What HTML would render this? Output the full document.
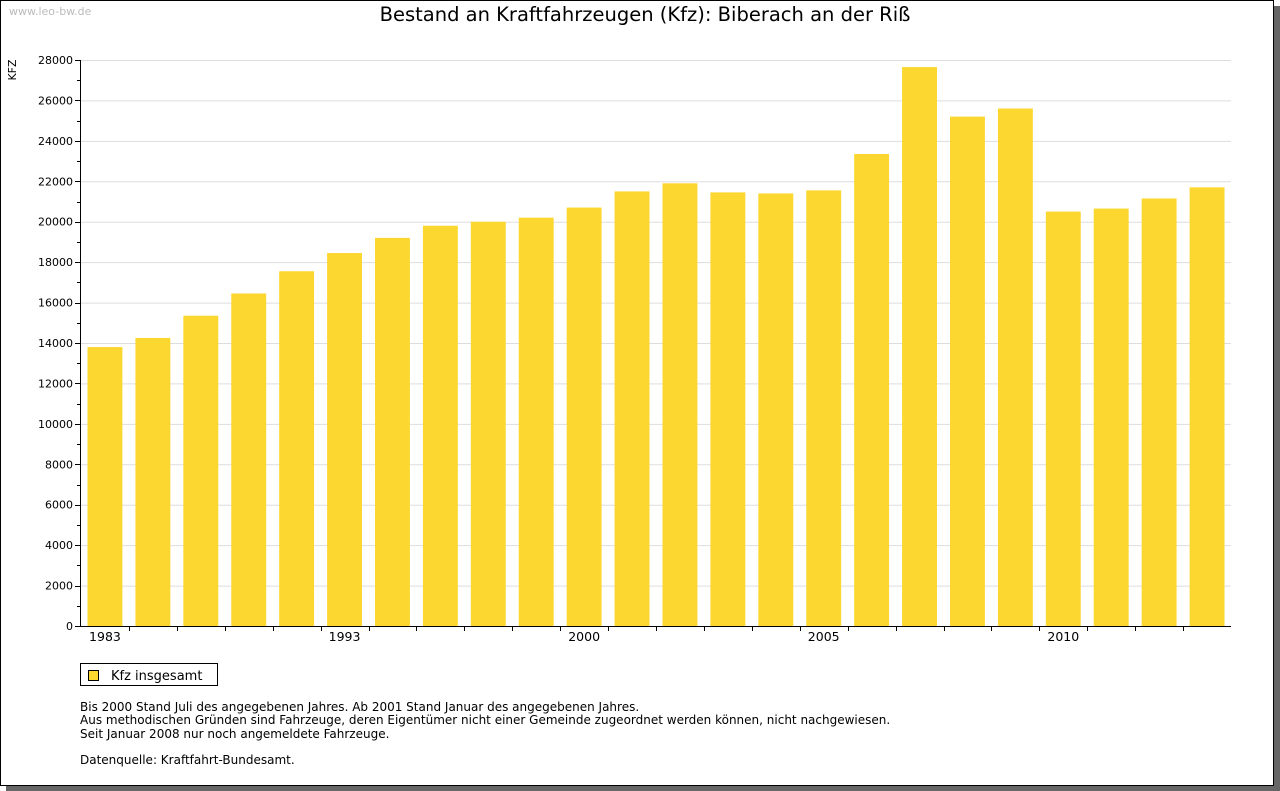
<!DOCTYPE html>
<html><head><meta charset="utf-8"><style>
body{margin:0;background:#fff;width:1280px;height:791px;overflow:hidden;font-family:"DejaVu Sans","Liberation Sans",sans-serif;}
#frame{position:absolute;left:0;top:0;width:1272px;height:784px;border:1px solid #000;background:#fff;box-shadow:6px 6px 0 #666;}
</style></head><body>
<div id="frame"></div>
<svg id="c" width="1280" height="791" style="position:absolute;left:0;top:0" font-family="DejaVu Sans, Liberation Sans, sans-serif">
<text x="9" y="15" font-size="11" fill="#bbb">www.leo-bw.de</text>
<text x="645" y="21" font-size="19.5" text-anchor="middle" fill="#000">Bestand an Kraftfahrzeugen (Kfz): Biberach an der Riß</text>
<text transform="translate(16,70) rotate(-90)" font-size="11" text-anchor="middle">KFZ</text>
<g id="grid"></g><g id="bars"></g><g id="axes"></g>
<g>
<rect x="80.5" y="663.5" width="137" height="22" fill="#fff" stroke="#000"/>
<rect x="88.5" y="670.5" width="10" height="10" fill="#fcd72f" stroke="#000"/>
<text x="111" y="680" font-size="13">Kfz insgesamt</text>
</g>
<g font-size="12">
<text x="80" y="711">Bis 2000 Stand Juli des angegebenen Jahres. Ab 2001 Stand Januar des angegebenen Jahres.</text>
<text x="80" y="724">Aus methodischen Gründen sind Fahrzeuge, deren Eigentümer nicht einer Gemeinde zugeordnet werden können, nicht nachgewiesen.</text>
<text x="80" y="738">Seit Januar 2008 nur noch angemeldete Fahrzeuge.</text>
<text x="80" y="764">Datenquelle: Kraftfahrt-Bundesamt.</text>
</g>
</svg>
<script>
const categories=["1983","1985","1987","1989","1991","1993","1995","1996","1997","1999","2000","2001","2002","2003","2004","2005","2006","2007","2008","2009","2010","2011","2012","2013"];
const values=[13800,14250,15350,16450,17550,18450,19200,19800,20000,20200,20700,21500,21900,21450,21400,21550,23350,27650,25200,25600,20500,20650,21150,21700];
const shownLabels=["1983","1993","2000","2005","2010"];
const yTicks=[0,2000,4000,6000,8000,10000,12000,14000,16000,18000,20000,22000,24000,26000,28000];
const NS="http://www.w3.org/2000/svg";
const X0=80,X1=1231,Y0=626,Y1=60,YMAX=28000;
const band=(X1-X0-1)/categories.length;
const y=v=>Y0-(v/YMAX)*(Y0-Y1);
const x=i=>X0+1+i*band;
function mk(t,a,p){const e=document.createElementNS(NS,t);for(const k in a)e.setAttribute(k,a[k]);p.appendChild(e);return e;}
const grid=document.getElementById('grid'),bars=document.getElementById('bars'),axes=document.getElementById('axes');
yTicks.forEach(v=>{
  if(v>0){const g=mk('line',{x1:X0,x2:X1,y1:y(v)+.5,y2:y(v)+.5,stroke:'#ddd'},grid);
  
  }
  const t=mk('line',{x1:X0-5,x2:X0,y1:Math.round(y(v))+.5,y2:Math.round(y(v))+.5,stroke:'#000'},axes);
  
  
  if(v+1000<YMAX){const m=mk('line',{x1:X0-3,x2:X0,y1:Math.round(y(v+1000))+.5,y2:Math.round(y(v+1000))+.5,stroke:'#000'},axes);
  
  }
  const l=mk('text',{x:X0-7,y:y(v)+4,'font-size':11,'text-anchor':'end'},axes);l.textContent=v;
  
  
});
values.forEach((v,i)=>{
  const r=mk('rect',{x:x(i)+6.5,y:y(v),width:band-13,height:Y0-y(v),fill:'#fcd72f'},bars);
  
  
  if(i>0){const t=mk('line',{x1:Math.round(x(i))+.5,x2:Math.round(x(i))+.5,y1:Y0,y2:Y0+5,stroke:'#000'},axes);
  
  }
  if(shownLabels.includes(categories[i])){const l=mk('text',{x:x(i)+band/2,y:Y0+15,'font-size':12.5,'text-anchor':'middle'},axes);l.textContent=categories[i];
  
  }
});
const ya=mk('line',{x1:X0+.5,x2:X0+.5,y1:Y1,y2:Y0+1,stroke:'#000'},axes);


const xa=mk('line',{x1:X0,x2:X1,y1:Y0+.5,y2:Y0+.5,stroke:'#000'},axes);


</script>
</body></html>
